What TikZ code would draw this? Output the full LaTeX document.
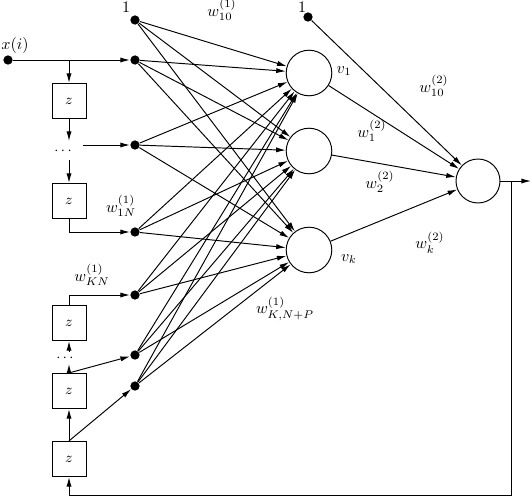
\documentclass[tikz,border=0pt]{standalone}
\usetikzlibrary{arrows.meta}
\begin{document}
\begin{tikzpicture}[x=0.625pt,y=-0.625pt,
  arr/.style={-{Latex[length=6pt,width=3.2pt]}},
  every path/.style={line width=0.6pt},
  dot/.style={circle,fill,inner sep=0pt,minimum size=5.8pt},
  neuron/.style={circle,draw,inner sep=0pt,minimum size=28.5pt},
  delay/.style={draw,inner sep=0pt,minimum width=21.25pt,minimum height=22pt,font=\small},
  lbl/.style={inner sep=0pt}]
\useasboundingbox (0,0) rectangle (532,498);

% input column
\node[dot] (src) at (8,60) {};
\node[dot] (I0) at (135,20) {};
\node[dot] (I1) at (135,60) {};
\node[dot] (I2) at (135,145) {};
\node[dot] (I3) at (135,232) {};
\node[dot] (I4) at (135,295) {};
\node[dot] (I5) at (135,355) {};
\node[dot] (I6) at (135,386) {};

% delay line
\node[delay] (z1) at (69,101) {$z$};
\node[delay] (z2) at (69,201) {$z$};
\node[delay] (z3) at (69,323) {$z$};
\node[delay] (z4) at (69,391) {$z$};
\node[delay] (z5) at (69,459) {$z$};
\node[lbl,font=\small] (dA) at (63,151) {$\cdots$};
\node[lbl,font=\small] (dB) at (65,358) {$\cdots$};

\coordinate (br) at (69,60);
\coordinate (a1) at (69,141);
\coordinate (a2) at (69,160);
\coordinate (a3) at (83,145);
\coordinate (a4) at (69,352);
\coordinate (a5) at (69,364);

% hidden and output neurons
\node[neuron] (H1) at (309,73) {};
\node[neuron] (H2) at (309,151) {};
\node[neuron] (H3) at (309,250) {};
\node[neuron,minimum size=27.5pt] (O) at (478,181) {};
\node[dot] (B2) at (308,17) {};

\coordinate (fb) at (511,181);
\coordinate (fc) at (511,495);
\coordinate (out) at (531,181);

% delay-line connectors
\draw[arr] (src) -- (I1);
\draw[arr] (br) -- (z1);
\draw[arr] (z1) -- (a1);
\draw[arr] (a2) -- (z2);
\draw[arr] (a3) -- (I2);
\draw[arr] (z2.south) |- (I3);
\draw[arr] (z3.north) |- (I4);
\draw[arr] (a4) -- (z3);
\draw[arr] (z4) -- (a5);
\draw[arr] (z4.north) -- (I5);
\draw[arr] (z5) -- (z4);
\draw[arr] (z5.north) -- (I6);

% input to hidden
\foreach \i in {0,...,6}{
  \foreach \h in {1,2,3}{
    \draw[arr] (I\i) -- (H\h);
  }
}

% hidden to output
\draw[arr] (B2) -- (O);
\draw[arr] (H1) -- (O);
\draw[arr] (H2) -- (O);
\draw[arr] (H3) -- (O);
\draw[arr] (O) -- (out);
\draw[arr] (fb) -- (fc) -| (z5.south);

% labels
\node[lbl] (lx) at (15,45) {$x(i)$};
\node[lbl] (l1a) at (126,7) {$1$};
\node[lbl] (l1b) at (302,7) {$1$};
\node[lbl] (lw10) at (222,10) {$w_{10}^{(1)}$};
\node[lbl] (lw1N) at (121,206) {$w_{1N}^{(1)}$};
\node[lbl] (lwKN) at (92,275) {$w_{KN}^{(1)}$};
\node[lbl] (lwKNP) at (285,309) {$w_{K,N+P}^{(1)}$};
\node[lbl] (lv1) at (344,71) {$v_1$};
\node[lbl] (lvk) at (349,259) {$v_k$};
\node[lbl] (lw20) at (434,86) {$w_{10}^{(2)}$};
\node[lbl] (lw21) at (372,131) {$w_1^{(2)}$};
\node[lbl] (lw22) at (380,182) {$w_2^{(2)}$};
\node[lbl] (lw2k) at (430,243) {$w_k^{(2)}$};
\end{tikzpicture}
\end{document}
